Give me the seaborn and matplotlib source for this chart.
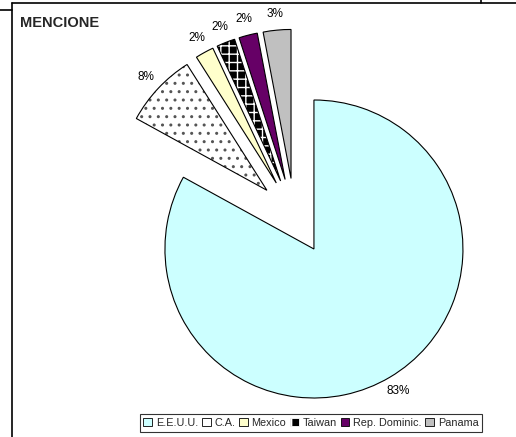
import matplotlib
matplotlib.use("Agg")
import matplotlib.pyplot as plt
import matplotlib.patches as mpatches
from matplotlib.lines import Line2D
import seaborn as sns

categories = ["E.E.U.U.", "C.A.", "Mexico", "Taiwan", "Rep. Dominic.", "Panama"]
shares = [83, 8, 2, 2, 2, 3]

palette = sns.color_palette(["#CCFFFF", "#FFFFFF", "#FFFFCC", "#000000", "#660066", "#C0C0C0"])
hatches = [None, "..", None, "++", None, None]
hatch_colors = ["black", "#555555", "black", "white", "black", "black"]

sns.set_theme(style="white")
plt.rcParams["font.family"] = ["Liberation Sans", "DejaVu Sans"]

W, H = 516, 437
fig = plt.figure(figsize=(W / 100, H / 100), dpi=100)
ax = fig.add_axes([0, 0, 1, 1])

R = 149.0              # pie radius in pixels
cx, cy = 294.6, 216.3  # pie centre in pixels (from top-left)

wedges, texts, autotexts = ax.pie(
    shares, colors=palette, startangle=90, counterclock=False,
    explode=[0.255] * len(shares), autopct="%1.0f%%", pctdistance=1.11,
    wedgeprops=dict(linewidth=0.8, edgecolor="black"),
    textprops=dict(fontsize=8.5, color="black"),
)

for w, hc, hp in zip(wedges, hatch_colors, hatches):
    if hp:
        w.set_hatch(hp)
        w.set_edgecolor(hc)
        w.set_linewidth(0)
        outline = mpatches.Wedge(w.center, w.r, w.theta1, w.theta2,
                                 fill=False, edgecolor="black", linewidth=0.8)
        ax.add_patch(outline)

ax.set_aspect("equal")
ax.set_xlim(-cx / R, (W - cx) / R)
ax.set_ylim(-(H - cy) / R, cy / R)
ax.axis("off")

# sheet / chart area borders
for xs, ys in [((12, W), (3, 3)), ((12, 12), (3, H)), ((0, 12), (10, 10)), ((481, 481), (0, 3))]:
    fig.add_artist(Line2D([x / W for x in xs], [1 - y / H for y in ys],
                          color="black", linewidth=1.2))

fig.text(20 / W, 1 - 23 / H, "MENCIONE", fontsize=10.5, fontweight="bold", va="center")

legend_hatches = [None, None, None, "|", None, None]
handles = []
for c, hc, hp in zip(palette, hatch_colors, legend_hatches):
    handles.append(mpatches.Patch(facecolor=c, edgecolor=hc if hp else "black",
                                  hatch=hp, linewidth=0.6))
leg = fig.legend(handles, categories, loc="center", bbox_to_anchor=(311 / W, 1 - 423 / H),
                 ncol=6, fontsize=7.8, frameon=True, fancybox=False, edgecolor="black",
                 handlelength=0.8, handleheight=0.8, handletextpad=0.35,
                 columnspacing=0.35, borderpad=0.35, borderaxespad=0)
leg.get_frame().set_linewidth(0.8)

fig.savefig("out.png", dpi=100)
